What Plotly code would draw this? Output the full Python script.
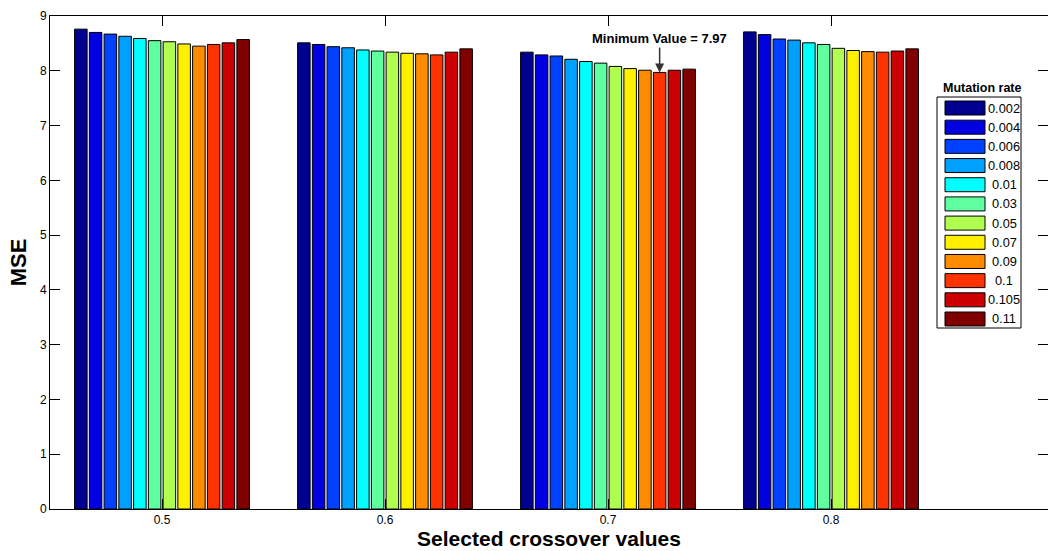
import plotly.graph_objects as go

# ---- data ----
crossover = [0.5, 0.6, 0.7, 0.8]
mutation_rates = ["0.002", "0.004", "0.006", "0.008", "0.01", "0.03",
                  "0.05", "0.07", "0.09", "0.1", "0.105", "0.11"]
mse_cx05 = [8.76, 8.70, 8.67, 8.63, 8.59, 8.55, 8.53, 8.49, 8.45, 8.48, 8.51, 8.57]
mse_cx06 = [8.51, 8.48, 8.44, 8.42, 8.38, 8.36, 8.34, 8.32, 8.31, 8.29, 8.34, 8.40]
mse_cx07 = [8.34, 8.29, 8.27, 8.21, 8.17, 8.14, 8.08, 8.04, 8.01, 7.97, 8.01, 8.03]
mse_cx08 = [8.71, 8.66, 8.58, 8.56, 8.51, 8.48, 8.41, 8.37, 8.35, 8.34, 8.36, 8.40]
colors = ["#000090", "#0000E0", "#0040FF", "#00A0FF", "#00FFFF", "#60FFA0",
          "#B0FF50", "#FFF000", "#FF8C00", "#FF3300", "#CC0000", "#800000"]
y_ticks = [0, 1, 2, 3, 4, 5, 6, 7, 8, 9]

groups = [mse_cx05, mse_cx06, mse_cx07, mse_cx08]

# ---- layout constants ----
W, H = 1048, 551
ML, MT, MB, MR = 50, 16, 42, 0
BARGAP = 0.206
BARGROUPGAP = 0.15
FONT = "Arial, Liberation Sans, sans-serif"

fig = go.Figure()
for i, rate in enumerate(mutation_rates):
    fig.add_trace(go.Bar(
        x=crossover,
        y=[g[i] for g in groups],
        name=rate,
        marker=dict(color=colors[i], line=dict(color="black", width=1)),
        showlegend=False,
    ))

# x range: 0.5 at pixel 162, 0.1 -> 223 px
px_per_unit = 2230.0
x0 = 0.5 - (162 - ML) / px_per_unit
x1 = x0 + (W - ML - MR) / px_per_unit

fig.update_layout(
    width=W, height=H,
    margin=dict(l=ML, r=MR, t=MT, b=MB, autoexpand=False),
    paper_bgcolor="white", plot_bgcolor="white",
    barmode="group", bargap=BARGAP, bargroupgap=BARGROUPGAP,
    font=dict(family=FONT, size=12, color="black"),
    xaxis=dict(
        range=[x0, x1], tickvals=crossover, ticktext=[str(c) for c in crossover],
        ticks="inside", ticklen=10, tickcolor="black", showline=True,
        linecolor="black", linewidth=1, mirror="ticks", showgrid=False,
        zeroline=False, tickfont=dict(size=12),
        title=dict(text="<b>Selected crossover values</b>", font=dict(size=21),
                   standoff=3),
        automargin=False,
    ),
    yaxis=dict(
        range=[0, 9], tickvals=y_ticks, ticks="inside", ticklen=10,
        tickcolor="black", showline=True, linecolor="black", linewidth=1,
        mirror="ticks", showgrid=False, zeroline=False, tickfont=dict(size=12),
        title=dict(text="<b>MSE</b>", font=dict(size=22), standoff=7),
        automargin=False,
    ),
)

# ---- annotation on minimum ----
all_vals = [(gi, bi, v) for gi, g in enumerate(groups) for bi, v in enumerate(g)]
gmin, bmin, vmin = min(all_vals, key=lambda t: t[2])
group_w = 0.1 * (1 - BARGAP)
slot = group_w / len(mutation_rates)
x_min_bar = crossover[gmin] - group_w / 2 + slot * (bmin + 0.5)
fig.add_annotation(
    x=x_min_bar, y=vmin, xref="x", yref="y",
    text="<b>Minimum Value = %.2f</b>" % vmin,
    showarrow=True, arrowhead=2, arrowsize=1.2, arrowwidth=1.5,
    arrowcolor="#333333", ax=0, ay=-34,
    font=dict(size=13, color="black"),
)

# ---- custom legend (MATLAB style wide swatches) ----
pw = W - ML - MR
ph = H - MT - MB

def pxx(px):
    return (px - ML) / pw

def pxy(py):
    return (H - MB - py) / ph

box_l, box_r, box_t, box_b = 937, 1021, 97, 328
fig.add_shape(type="rect", xref="paper", yref="paper",
              x0=pxx(box_l), x1=pxx(box_r), y0=pxy(box_b), y1=pxy(box_t),
              line=dict(color="black", width=1), fillcolor="white")
fig.add_annotation(xref="paper", yref="paper", x=pxx(982),
                   y=pxy(88), text="<b>Mutation rate</b>", showarrow=False,
                   xanchor="center", yanchor="middle", font=dict(size=12.5))
step = (319 - 108) / (len(mutation_rates) - 1)
for i, rate in enumerate(mutation_rates):
    cy = 108 + step * i
    fig.add_shape(type="rect", xref="paper", yref="paper",
                  x0=pxx(945), x1=pxx(985), y0=pxy(cy + 7), y1=pxy(cy - 7),
                  line=dict(color="black", width=1), fillcolor=colors[i])
    fig.add_annotation(xref="paper", yref="paper", x=pxx(1004), y=pxy(cy),
                       text=rate, showarrow=False, xanchor="center",
                       yanchor="middle", font=dict(size=12.8))

fig.write_html("out.html")
